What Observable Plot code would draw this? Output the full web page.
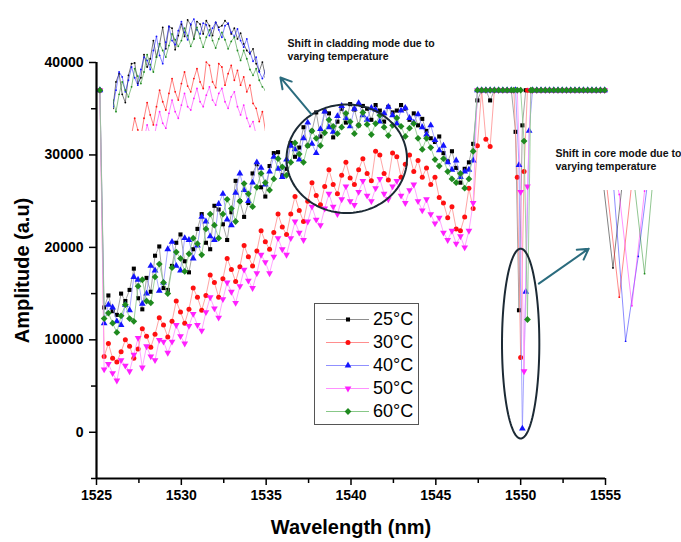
<!DOCTYPE html>
<html><head><meta charset="utf-8">
<script src="https://cdn.jsdelivr.net/npm/d3@7"></script>
<script src="https://cdn.jsdelivr.net/npm/@observablehq/plot@0.6"></script>
<style>
body{margin:0;background:#fff;font-family:"Liberation Sans",Arial,sans-serif;}
#wrap{position:relative;width:681px;height:542px;overflow:hidden;}
#wrap svg{overflow:visible;}
.inset{position:absolute;}
#legend{position:absolute;left:314px;top:303px;width:105px;height:122px;border:1px solid #555;box-sizing:border-box;background:#fff;}
.row{position:absolute;left:0;height:23px;display:flex;align-items:center;}
.row span{font-size:18px;line-height:23px;margin-left:2px;color:#000;}
</style></head><body><div id="wrap"></div>
<script>
// ---------- DATA ----------
const temps = ["25°C", "30°C", "40°C", "50°C", "60°C"];

const wlMain = [
1525.2,1525.45,1525.7,1525.95,1526.2,1526.45,1526.7,1526.95,
1527.2,1527.45,1527.7,1527.95,1528.2,1528.45,1528.7,1528.95,
1529.2,1529.45,1529.7,1529.95,1530.2,1530.45,1530.7,1530.95,
1531.2,1531.45,1531.7,1531.95,1532.2,1532.45,1532.7,1532.95,
1533.2,1533.45,1533.7,1533.95,1534.2,1534.45,1534.7,1534.95,
1535.2,1535.45,1535.7,1535.95,1536.2,1536.45,1536.7,1536.95,
1537.2,1537.45,1537.7,1537.95,1538.2,1538.45,1538.7,1538.95,
1539.2,1539.45,1539.7,1539.95,1540.2,1540.45,1540.7,1540.95,
1541.2,1541.45,1541.7,1541.95,1542.2,1542.45,1542.7,1542.95,
1543.2,1543.45,1543.7,1543.95,1544.2,1544.45,1544.7,1544.95,
1545.2,1545.45,1545.7,1545.95,1546.2,1546.45,1546.7,1546.95,
1547.2,1547.45,1547.7,1547.95,1548.2,1548.45,1548.7,1548.95,
1549.2,1549.45];
const wlDip = [1549.6,1549.7,1549.8,1549.9,1550.0,1550.1,1550.2,1550.3,1550.4,1550.5,1550.6];
const wlTail = [1550.7,1550.95,1551.2,1551.45,1551.7,1551.95,1552.2,1552.45,1552.7,1552.95,
1553.2,1553.45,1553.7,1553.95,1554.2,1554.45,1554.7,1554.95];

const amp25 = [37000,13500,14800,13100,12700,15000,14200,15400,
17700,14500,13300,16700,15200,19100,20100,15600,
15400,18000,20500,21400,18500,17300,19800,22000,
23600,20500,19800,24500,24100,22500,20800,23800,
27200,25000,23300,24800,28000,29000,26500,25500,
28800,30200,30300,27800,28500,31300,29800,30800,
33000,31000,32600,34600,32000,34700,34500,31900,
33600,35000,33500,35500,34900,33200,35300,35000,
33800,35400,34800,33600,35200,34600,34800,35400,
35000,33800,34500,33200,33900,32600,31800,31400,
32000,30200,29300,30400,28600,27000,28500,29200,
31200,35900,37000,37000,35900,37000,37000,37000,
37000,37000];
const amp30 = [37000,8200,9600,8000,7600,8700,10000,9300,
8000,9000,11200,10400,9200,10600,12400,11600,
10300,12000,14200,13000,11800,13300,15600,14600,
13200,14800,17000,16200,14600,16600,18800,17600,
16300,17900,20200,19000,18000,19600,21800,20600,
19800,21600,23600,22200,21400,23600,25500,24000,
22800,25000,27000,25600,24600,26600,28400,26800,
25800,27800,29200,27500,26800,28400,29600,28000,
27200,30400,30000,28000,27300,30200,29800,27600,
29000,30000,28200,29400,27600,28600,26800,27600,
25400,24800,23200,24400,22000,21800,23300,26400,
24200,31000,37000,31700,30900,37000,37000,37000,
37000,37000];
const amp40 = [37000,11800,13800,13500,12000,11600,13800,13200,
16800,16500,13900,15000,18000,17500,15300,16200,
19800,20600,18000,17500,21000,20800,18800,20200,
23300,22800,21200,20800,24700,25800,23000,22400,
25900,28000,26200,25000,27000,29200,28600,26800,
28200,29800,28500,27600,29500,31000,30600,29500,
31800,33500,31200,30200,32800,34700,33000,32500,
34200,35300,34000,33100,35000,35600,34300,33800,
35100,34900,33600,34500,35200,34300,33400,34800,
35100,34000,33500,34400,33000,32200,33200,31600,
30500,31000,29200,28400,29400,27600,28200,28400,
29400,37000,37000,37000,37000,37000,37000,37000,
37000,37000];
const amp50 = [37000,6800,7400,6400,5600,7800,7200,6600,
8400,10200,7000,9300,8200,7800,10000,9800,
8600,9800,11600,10400,9600,11500,12800,11600,
11000,13000,14600,13400,12400,14400,16200,15200,
14000,15800,17600,16400,15600,17200,19200,18400,
17200,19000,21000,19800,19200,21000,22800,21600,
20800,22800,24400,23000,22400,24200,25800,24400,
23600,25200,26600,25000,24600,26000,27200,25600,
25000,26400,27400,25800,25200,26600,27200,25600,
24800,26200,26800,25000,24000,25200,23600,22600,
23200,21600,20800,21800,20400,21200,20000,21800,
24800,37000,37000,37000,37000,37000,37000,37000,
37000,37000];
const amp60 = [37000,12300,12900,11800,10800,12600,13800,12300,
12000,15800,16500,14200,14000,16800,18200,16200,
15000,17800,19500,18800,17400,19300,21000,20400,
19200,22000,23600,22400,21000,23600,25200,24200,
22800,25000,26900,25800,24400,26500,28000,27000,
26200,27400,29600,28700,27800,29200,31300,30100,
29200,31000,32600,31800,31000,32400,33800,33100,
32300,33000,34500,33600,32300,33200,34600,33300,
32200,33400,34300,33000,32100,33200,34000,33100,
32000,32900,33400,31800,30600,31800,30800,29500,
28800,29600,28200,27400,27000,28000,26400,27400,
30400,37000,37000,37000,37000,37000,37000,37000,
37000,37000];

// core-mode dip samples (null = no sample at that wavelength)
const dip25 = [null,32500,null,13200,null,33200,null,37000,null,37000,null];
const dip30 = [37000,null,27600,null,8100,null,28200,null,37000,null,37000];
const dip40 = [null,37000,null,28900,null,400,null,15200,null,32600,null];
const dip50 = [37000,null,37000,null,26000,null,6600,null,26600,null,37000];
const dip60 = [37000,null,37000,null,37000,null,31500,null,12200,null,37000];

const saturatedTail = [37000,37000,37000,37000,37000,37000,37000,37000,37000,
37000,37000,37000,37000,37000,37000,37000,37000,37000];

const xTicks = [1525, 1530, 1535, 1540, 1545, 1550, 1555];
const xMinorTicks = [1527.5, 1532.5, 1537.5, 1542.5, 1547.5, 1552.5];
const yTicks = [0, 10000, 20000, 30000, 40000];
const yMinorTicks = [-5000, 5000, 15000, 25000, 35000];

// annotations (data coordinates)
const noteCladding = {wl: 1536.26, amp: 42700, text: "Shift in cladding mode due to\nvarying temperature"};
const noteCore = {wl: 1552.05, amp: 30800, text: "Shift in core mode due to\nvarying temperature"};
const ellipseCladding = {wl: 1539.75, amp: 29590, rwl: 3.55, ramp: 5870};
const ellipseCore = {wl: 1550.0, amp: 9590, rwl: 1.10, ramp: 10270};
const arrowCladding = {wl1: 1537.67, amp1: 34380, wl2: 1535.84, amp2: 38380};
const arrowCore = {wl1: 1551.07, amp1: 16080, wl2: 1554.01, amp2: 19860};

// ---------- STYLE ----------
const markerColors = ["#000000", "#ff1010", "#1414ff", "#ff20ff", "#1f8a1f"];
const lineColors = ["#8e8e8e", "#ff8e8e", "#9090ff", "#ff90ff", "#88c888"];
const triangleDown = {draw(ctx, size) {
  const y = -Math.sqrt(size / (Math.sqrt(3) * 3));
  ctx.moveTo(0, -2 * y); ctx.lineTo(-Math.sqrt(3) * y, y); ctx.lineTo(Math.sqrt(3) * y, y); ctx.closePath();
}};
const diamond = {draw(ctx, size) {
  const r = Math.sqrt(size / 2);
  ctx.moveTo(0, -r); ctx.lineTo(r, 0); ctx.lineTo(0, r); ctx.lineTo(-r, 0); ctx.closePath();
}};
const symbols = [d3.symbolSquare, d3.symbolCircle, d3.symbolTriangle, triangleDown, diamond];
const dotR = [2.3, 2.5, 2.5, 2.5, 2.7];

const mainVals = [amp25, amp30, amp40, amp50, amp60];
const dipVals = [dip25, dip30, dip40, dip50, dip60];

function seriesRows(k) {
  const out = [];
  wlMain.forEach((w, i) => out.push({wl: w, amp: mainVals[k][i]}));
  wlDip.forEach((w, i) => { if (dipVals[k][i] != null) out.push({wl: w, amp: dipVals[k][i]}); });
  wlTail.forEach((w, i) => out.push({wl: w, amp: saturatedTail[i]}));
  return out;
}
const series = temps.map((t, k) => seriesRows(k));

function ellipsePts(e) {
  return d3.range(0, 361, 3).map(a => ({
    wl: e.wl + e.rwl * Math.cos(a * Math.PI / 180),
    amp: e.amp + e.ramp * Math.sin(a * Math.PI / 180)
  }));
}

const fmt = d3.format("d");
const main = Plot.plot({
  width: 681, height: 542,
  marginLeft: 96, marginRight: 76, marginTop: 62, marginBottom: 64,
  style: {fontFamily: "'Liberation Sans', Arial, sans-serif", fontWeight: "bold", background: "transparent", overflow: "visible"},
  x: {domain: [1525, 1555], label: null},
  y: {domain: [-5000, 40000], label: null},
  marks: [
    ...series.flatMap((rows, k) => [
      Plot.line(rows, {x: "wl", y: "amp", stroke: lineColors[k], strokeWidth: 0.8}),
      Plot.dot(rows, {x: "wl", y: "amp", symbol: symbols[k], r: dotR[k], fill: markerColors[k]})
    ]),
    Plot.line(ellipsePts(ellipseCladding), {x: "wl", y: "amp", stroke: "#1c2a35", strokeWidth: 2}),
    Plot.line(ellipsePts(ellipseCore), {x: "wl", y: "amp", stroke: "#1c2a35", strokeWidth: 2}),
    Plot.arrow([arrowCladding, arrowCore], {x1: "wl1", y1: "amp1", x2: "wl2", y2: "amp2", stroke: "#2b6c7e", strokeWidth: 2, headLength: 9}),
    Plot.text([noteCladding, noteCore], {x: "wl", y: "amp", text: "text", textAnchor: "start", lineAnchor: "top", fontSize: 10.5, fontWeight: "bold", lineHeight: 1.25, fill: "#111"}),
    Plot.axisX({ticks: xTicks, tickFormat: fmt, tickSize: 7, tickPadding: 5, fontSize: 14, strokeWidth: 1.5, label: null}),
    Plot.axisX({ticks: xMinorTicks, tickFormat: () => "", tickSize: 5, strokeWidth: 1.5, label: null}),
    Plot.axisY({ticks: yTicks, tickFormat: fmt, tickSize: 7, tickPadding: 6, fontSize: 14, strokeWidth: 1.5, label: null}),
    Plot.axisY({ticks: yMinorTicks, tickFormat: () => "", tickSize: 5, strokeWidth: 1.5, label: null}),
    Plot.ruleX([1525], {strokeWidth: 2.2}),
    Plot.ruleY([-5000], {strokeWidth: 2.2}),
    Plot.text(["Amplitude (a.u)"], {frameAnchor: "left", dx: -74, rotate: -90, fontSize: 20, fontWeight: "bold", textAnchor: "middle"}),
    Plot.text(["Wavelength (nm)"], {frameAnchor: "bottom", dy: 49, lineAnchor: "middle", fontSize: 20, fontWeight: "bold"})
  ]
});
const wrap = document.getElementById("wrap");
wrap.appendChild(main);

// Inset: zoom of cladding-mode region
const inset1 = Plot.plot({
  width: 152, height: 124, margin: 0,
  style: {background: "transparent"},
  x: {domain: [1534, 1546.2], axis: null},
  y: {domain: [22000, 37000], axis: null},
  marks: series.flatMap((rows, k) => [
    Plot.line(rows, {x: "wl", y: "amp", stroke: markerColors[k], strokeWidth: 0.7, strokeOpacity: 0.75, clip: true}),
    Plot.dot(rows, {x: "wl", y: "amp", r: 0.9, fill: markerColors[k], clip: true})
  ])
});
inset1.classList.add("inset");
inset1.style.left = "113px"; inset1.style.top = "7px";
wrap.appendChild(inset1);

// Inset: zoom of core-mode dip
const inset2 = Plot.plot({
  width: 60, height: 152, margin: 0,
  style: {background: "transparent"},
  x: {domain: [1549.75, 1550.7], axis: null},
  y: {domain: [200, 26700], axis: null},
  marks: series.flatMap((rows, k) => [
    Plot.line(rows, {x: "wl", y: "amp", stroke: markerColors[k], strokeWidth: 0.7, strokeOpacity: 0.7, clip: true}),
    Plot.dot(rows, {x: "wl", y: "amp", r: 0.9, fill: markerColors[k], clip: true})
  ])
});
inset2.classList.add("inset");
inset2.style.left = "603px"; inset2.style.top = "190px";
wrap.appendChild(inset2);

// Legend
const legend = document.createElement("div");
legend.id = "legend";
legend.innerHTML = temps.map((t, k) => {
  const path = d3.symbol(symbols[k], Math.PI * dotR[k] * dotR[k])();
  return `<div class="row" style="top:${4 + 23 * k}px"><svg width="56" height="23"><line x1="11" x2="54" y1="11.5" y2="11.5" stroke="${lineColors[k]}" stroke-width="1"/><path d="${path}" transform="translate(33,11.5)" fill="${markerColors[k]}"/></svg><span>${t}</span></div>`;
}).join("");
wrap.appendChild(legend);
</script></body></html>
